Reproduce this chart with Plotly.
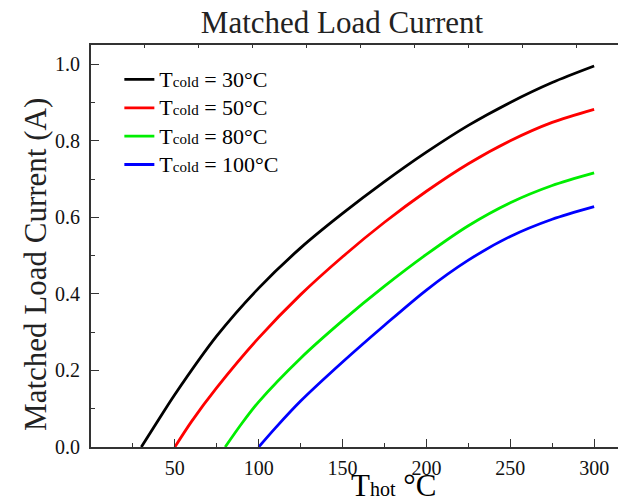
import plotly.graph_objects as go

# Data
t_hot_30 = [30, 40, 50, 75, 100, 125, 150, 175, 200, 225, 250, 275, 300]
i_30 = [0.0, 0.069, 0.137, 0.29, 0.415, 0.52, 0.61, 0.693, 0.77, 0.84, 0.9, 0.952, 0.995]

t_hot_50 = [50, 60, 75, 100, 125, 150, 175, 200, 225, 250, 275, 300]
i_50 = [0.0, 0.067, 0.155, 0.285, 0.398, 0.497, 0.587, 0.668, 0.74, 0.80, 0.848, 0.882]

t_hot_80 = [80, 90, 100, 125, 150, 175, 200, 225, 250, 275, 300]
i_80 = [0.0, 0.062, 0.118, 0.232, 0.33, 0.42, 0.503, 0.578, 0.638, 0.683, 0.716]

t_hot_100 = [100, 110, 125, 150, 175, 200, 225, 250, 275, 300]
i_100 = [0.0, 0.05, 0.12, 0.222, 0.318, 0.41, 0.488, 0.55, 0.595, 0.628]

BIG = "<span style='font-size:22px'>{}</span>"
SUB = "<span style='font-size:15px'>cold</span>"
series = [
    (BIG.format("T") + SUB + BIG.format(" = 30°C"), t_hot_30, i_30, "#000000"),
    (BIG.format("T") + SUB + BIG.format(" = 50°C"), t_hot_50, i_50, "#ff0000"),
    (BIG.format("T") + SUB + BIG.format(" = 80°C"), t_hot_80, i_80, "#00ee00"),
    (BIG.format("T") + SUB + BIG.format(" = 100°C"), t_hot_100, i_100, "#0000ff"),
]

x_ticks = [50, 100, 150, 200, 250, 300]
y_ticks = [0.0, 0.2, 0.4, 0.6, 0.8, 1.0]

FONT = "Liberation Serif"
AX = "#333333"

fig = go.Figure()
for name, xs, ys, col in series:
    fig.add_trace(go.Scatter(x=xs, y=ys, mode="lines", name=name,
                             line=dict(color=col, width=2.8, shape="spline", smoothing=0.8)))

# empty trace to make the top axis appear
fig.add_trace(go.Scatter(x=[], y=[], xaxis="x2", showlegend=False, hoverinfo="skip"))

fig.update_layout(
    width=618, height=494,
    margin=dict(l=83, r=0, t=37, b=55),
    paper_bgcolor="white", plot_bgcolor="white",
    font=dict(family=FONT, color="#000000"),
    title=dict(text="Matched Load Current", font=dict(family=FONT, size=31, color="#222222"),
               x=0.5405, xref="container", xanchor="center",
               y=0.972, yref="container", yanchor="middle"),
    xaxis=dict(range=[0, 319], tickvals=x_ticks, ticks="inside", ticklen=8, tickwidth=1.3,
               tickcolor=AX, showline=True, linecolor=AX, linewidth=2, showgrid=False,
               zeroline=False, ticklabelstandoff=2,
               tickfont=dict(family=FONT, size=20, color="#111111"),
               minor=dict(dtick=25, tick0=0, ticks="inside", ticklen=4, tickwidth=1.3, tickcolor=AX)),
    xaxis2=dict(range=[0, 319], overlaying="x", side="top", anchor="y", tick0=0, dtick=32.15,
                ticks="inside", ticklen=3, tickwidth=1.2, tickcolor=AX, showticklabels=False,
                showline=True, linecolor=AX, linewidth=2, showgrid=False, zeroline=False),
    yaxis=dict(range=[0, 1.05], tickvals=y_ticks, tickformat=".1f", ticks="inside", ticklen=8,
               tickwidth=1.3, tickcolor=AX, showline=True, linecolor=AX, linewidth=2,
               showgrid=False, zeroline=False, ticklabelstandoff=5,
               tickfont=dict(family=FONT, size=20, color="#111111"),
               minor=dict(dtick=0.1, tick0=0, ticks="inside", ticklen=4, tickwidth=1.3, tickcolor=AX)),
    legend=dict(x=0.053, y=0.962, xanchor="left", yanchor="top", bgcolor="rgba(0,0,0,0)",
                font=dict(family=FONT, size=19.5, color="#000000"), tracegroupgap=0),
    showlegend=True,
)

fig.add_annotation(text="T<span style='font-size:20px'>hot</span> °C", xref="paper", yref="paper",
                   x=0.566, y=-0.097, xanchor="center", yanchor="middle", showarrow=False,
                   font=dict(family=FONT, size=31, color="#000000"))
fig.add_annotation(text="Matched Load Current (A)", xref="paper", yref="paper",
                   x=-0.105, y=0.455, xanchor="center", yanchor="middle", textangle=-90,
                   showarrow=False, font=dict(family=FONT, size=31, color="#222222"))

fig.write_html("out.html")
